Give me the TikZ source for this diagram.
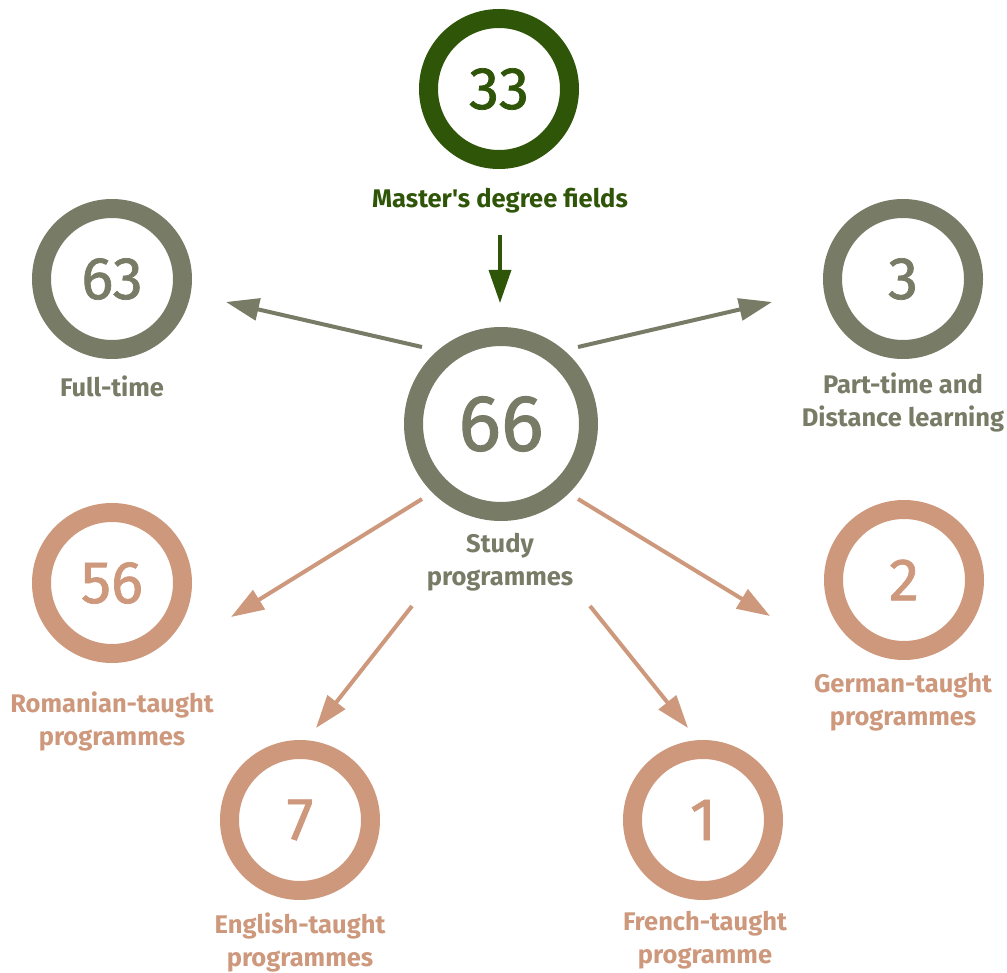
\documentclass[tikz,border=0pt]{standalone}
\usepackage{fontspec}
\setmainfont{Fira Sans}[Ligatures=TeXOff]
\newfontfamily\countfont{Fira Sans}[FakeBold=1.2]
\usetikzlibrary{calc,arrows.meta}
\definecolor{fieldgreen}{RGB}{47,85,8}
\definecolor{studygrey}{RGB}{120,123,102}
\definecolor{langsalmon}{RGB}{205,152,124}

\begin{document}
\begin{tikzpicture}[x=1pt,y=-1pt,
		ring/.style={circle, draw=#1, text=#1, line width=19pt, minimum size=141pt, inner sep=0pt,
			font=\countfont\fontsize{60}{64}\selectfont},
		lbl/.style={text=#1, anchor=base, align=center, font=\bfseries\fontsize{25.5}{33}\selectfont},
		link/.style={draw=#1, line width=4pt, -{Triangle[length=33pt,width=22pt]}}]
		%%%%% FRAME %%%%%
		\useasboundingbox (0, 0) rectangle (1007, 973);
		
		%%%%% RINGS %%%%%
		\node[ring=fieldgreen] (master) at (499, 89) {33};
		\node[ring=studygrey] (fulltime) at (112, 279) {63};
		\node[ring=studygrey] (parttime) at (903, 279) {3};
		\node[ring=studygrey, minimum size=175pt, font=\countfont\fontsize{80}{84}\selectfont] (study) at (501, 424) {66};
		\node[ring=langsalmon] (romanian) at (112, 583) {56};
		\node[ring=langsalmon] (german) at (904, 580) {2};
		\node[ring=langsalmon] (english) at (300, 820) {7};
		\node[ring=langsalmon] (french) at (703, 820) {1};
		
		%%%%% LABELS %%%%%
		% base anchor sits on the last line
		\node[lbl=fieldgreen] (master-lbl) at (500, 208) {Master's degree fields};
		\node[lbl=studygrey] (fulltime-lbl) at (112, 397) {Full-time};
		\node[lbl=studygrey] (parttime-lbl) at (903, 427) {Part-time and\\Distance learning};
		\node[lbl=studygrey] (study-lbl) at (500, 585) {Study\\programmes};
		\node[lbl=langsalmon] (romanian-lbl) at (112, 745) {Romanian-taught\\programmes};
		\node[lbl=langsalmon] (german-lbl) at (903, 725) {German-taught\\programmes};
		\node[lbl=langsalmon] (english-lbl) at (300, 966) {English-taught\\programmes};
		\node[lbl=langsalmon] (french-lbl) at (705, 963) {French-taught\\programme};
		
		%%%%% ARROWS %%%%%
		\draw[link=fieldgreen, line width=3.5pt] ($(master)+(1, 146)$) -- ($(study)+(-1, -121)$);
		\draw[link=studygrey] ($(study)+(-79, -77)$) -- ($(fulltime)+(114, 23)$);
		\draw[link=studygrey] ($(study)+(77, -77)$) -- ($(parttime)+(-131, 23)$);
		\draw[link=langsalmon] ($(study)+(-79, 75)$) -- ($(romanian)+(119, 34)$);
		\draw[link=langsalmon] ($(study)+(77, 75)$) -- ($(german)+(-134, 36)$);
		\draw[link=langsalmon] ($(study)+(-89, 182)$) -- ($(english)+(16, -92)$);
		\draw[link=langsalmon] ($(study)+(89, 182)$) -- ($(french)+(-15, -92)$);
	\end{tikzpicture}
\end{document}
